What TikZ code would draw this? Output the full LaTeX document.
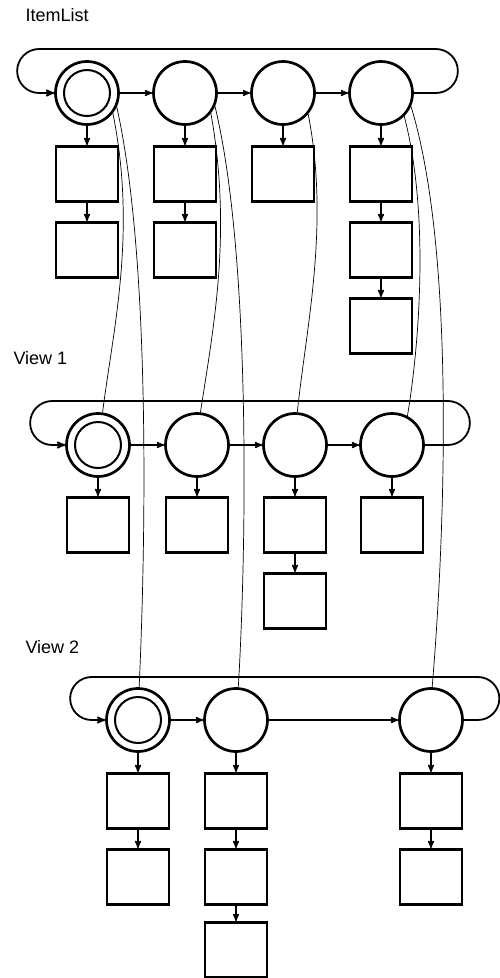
\documentclass[tikz,border=0pt]{standalone}
\usepackage{fontspec}
\setmainfont{Liberation Sans}
\usetikzlibrary{%
  arrows,%
  calc,%
  positioning% wg. " of "
}

\begin{document}
\begin{tikzpicture}[x=1pt, y=-1pt, >=stealth',
  item/.style={circle, draw, line width=2.7pt, minimum size=63pt, inner sep=0pt},
  first/.style={item, path picture={\draw[line width=2pt] (path picture bounding box.center) circle[radius=23pt];}},
  entry/.style={rectangle, draw, line width=2.9pt, minimum width=62pt, minimum height=55pt, inner sep=0pt},
  link/.style={->, line width=1.5pt},
  rail/.style={->, line width=1.8pt},
  view/.style={line width=0.7pt},
  title/.style={anchor=base west, font=\fontsize{18}{20}\selectfont}]

\useasboundingbox (0,0) rectangle (499,978);

% -------- ItemList
\node[title] (tItems) at (22,21) {ItemList};
\node[first] (i1) at (87,93) {};
\node[item] (i2) at (185,93) {};
\node[item] (i3) at (283,93) {};
\node[item] (i4) at (381,93) {};

\node[entry] (i1a) at (87,174) {};
\node[entry] (i1b) at (87,250) {};
\node[entry] (i2a) at (185,174) {};
\node[entry] (i2b) at (185,250) {};
\node[entry] (i3a) at (283,174) {};
\node[entry] (i4a) at (381,174) {};
\node[entry] (i4b) at (381,250) {};
\node[entry] (i4c) at (381,326) {};

\draw[link] (i1) -- (i2);
\draw[link] (i2) -- (i3);
\draw[link] (i3) -- (i4);
\draw[rail] (i4.east) -- ++(22,0) arc[start angle=90, end angle=-90, radius=22]
  -- ($(i1.west)+(-15,-44)$) arc[start angle=-90, end angle=-270, radius=22] -- (i1.west);

\draw[link] (i1) -- (i1a);
\draw[link] (i1a) -- (i1b);
\draw[link] (i2) -- (i2a);
\draw[link] (i2a) -- (i2b);
\draw[link] (i3) -- (i3a);
\draw[link] (i4) -- (i4a);
\draw[link] (i4a) -- (i4b);
\draw[link] (i4b) -- (i4c);

% -------- View 1
\node[title] (tView1) at (10,364) {View 1};
\node[first] (v1) at (98,445) {};
\node[item] (v2) at (197,445) {};
\node[item] (v3) at (295,445) {};
\node[item] (v4) at (392,445) {};

\node[entry] (v1a) at (98,525) {};
\node[entry] (v2a) at (197,525) {};
\node[entry] (v3a) at (295,525) {};
\node[entry] (v3b) at (295,601) {};
\node[entry] (v4a) at (392,525) {};

\draw[link] (v1) -- (v2);
\draw[link] (v2) -- (v3);
\draw[link] (v3) -- (v4);
\draw[rail] (v4.east) -- ++(23,0) arc[start angle=90, end angle=-90, radius=22]
  -- ($(v1.west)+(-13,-44)$) arc[start angle=-90, end angle=-270, radius=22] -- (v1.west);

\draw[link] (v1) -- (v1a);
\draw[link] (v2) -- (v2a);
\draw[link] (v3) -- (v3a);
\draw[link] (v3a) -- (v3b);
\draw[link] (v4) -- (v4a);

% -------- View 2
\node[title] (tView2) at (22,653) {View 2};
\node[first] (w1) at (138,720) {};
\node[item] (w2) at (236,720) {};
\node[item] (w3) at (431,720) {};

\node[entry] (w1a) at (138,801) {};
\node[entry] (w1b) at (138,877) {};
\node[entry] (w2a) at (236,801) {};
\node[entry] (w2b) at (236,877) {};
\node[entry] (w2c) at (236,950) {};
\node[entry] (w3a) at (431,801) {};
\node[entry] (w3b) at (431,877) {};

\draw[link] (w1) -- (w2);
\draw[link] (w2) -- (w3);
\draw[rail] (w3.east) -- ++(14,0) arc[start angle=90, end angle=-90, radius=21.5]
  -- ($(w1.west)+(-13.5,-43)$) arc[start angle=-90, end angle=-270, radius=21.5] -- (w1.west);

\draw[link] (w1) -- (w1a);
\draw[link] (w1a) -- (w1b);
\draw[link] (w2) -- (w2a);
\draw[link] (w2a) -- (w2b);
\draw[link] (w2b) -- (w2c);
\draw[link] (w3) -- (w3a);
\draw[link] (w3a) -- (w3b);

% -------- views onto the items
\draw[view] (i1.-38) .. controls (137,233) and (113,329) .. (v1.82);
\draw[view] (i1.-25) .. controls (152,265) and (145,560) .. (w1.88);
\draw[view] (i2.-38) .. controls (232,232) and (214,324) .. (v2.84);
\draw[view] (i2.-24) .. controls (252,260) and (246,560) .. (w2.86);
\draw[view] (i3.-40) .. controls (330,225) and (306,328) .. (v3.86);
\draw[view] (i4.-45) .. controls (430,215) and (419,347) .. (v4.62);
\draw[view] (i4.-24) .. controls (458,260) and (443,560) .. (w3.88);

\end{tikzpicture}
\end{document}
